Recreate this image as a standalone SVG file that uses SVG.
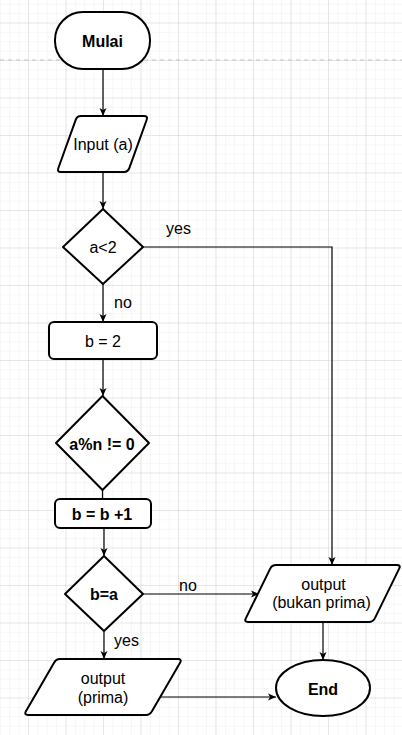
<svg xmlns="http://www.w3.org/2000/svg" width="402" height="735" viewBox="0 0 402 735">
  <defs>
    <pattern id="minor" patternUnits="userSpaceOnUse" x="28" y="22.5" width="9.375" height="9.375">
      <path d="M0,0 H9.375 M0,0 V9.375" fill="none" stroke="#efefef" stroke-width="1"/>
    </pattern>
    <pattern id="major" patternUnits="userSpaceOnUse" x="28" y="22.5" width="37.5" height="37.5">
      <path d="M0,0 H37.5 M0,0 V37.5" fill="none" stroke="#d6d6d6" stroke-width="1"/>
    </pattern>
    <marker id="arr" viewBox="0 0 8 8" refX="8" refY="4" markerWidth="8" markerHeight="8" markerUnits="userSpaceOnUse" orient="auto">
      <path d="M0,0.5 L8,4 L0,7.5 L2,4 Z" fill="#000"/>
    </marker>
  </defs>
  <style>
    .shape { fill: #fff; stroke: #000; stroke-width: 2; stroke-linejoin: round; }
    .edge { fill: none; stroke: #000; stroke-width: 1.2; }
    .t { font-family: "Liberation Sans", Arial, sans-serif; font-size: 16px; fill: #000; text-anchor: middle; }
    .b { font-weight: bold; }
    .lbl { font-family: "Liberation Sans", Arial, sans-serif; font-size: 16px; fill: #000; }
  </style>

  <!-- background grid -->
  <rect width="402" height="735" fill="#fff"/>
  <rect width="402" height="735" fill="url(#minor)"/>
  <rect width="402" height="735" fill="url(#major)"/>
  <line x1="0" y1="60" x2="402" y2="60" stroke="#c4c4c4" stroke-width="1" stroke-dasharray="4 4"/>

  <!-- connectors -->
  <g id="edges">
    <path class="edge" d="M103,69 V116" marker-end="url(#arr)"/>
    <path class="edge" d="M103,172 V209" marker-end="url(#arr)"/>
    <path class="edge" d="M143,247 H332 V565" marker-end="url(#arr)"/>
    <path class="edge" d="M103,284 V322" marker-end="url(#arr)"/>
    <path class="edge" d="M103,359 V396" marker-end="url(#arr)"/>
    <path class="edge" d="M102.5,490 V499"/>
    <path class="edge" d="M104,528 V556" marker-end="url(#arr)"/>
    <path class="edge" d="M143,594 H259" marker-end="url(#arr)"/>
    <path class="edge" d="M104,631 V659" marker-end="url(#arr)"/>
    <path class="edge" d="M161,697 H276" marker-end="url(#arr)" stroke="#333"/>
    <path class="edge" d="M323,622 V660" marker-end="url(#arr)"/>
    <text class="lbl" x="166" y="234">yes</text>
    <text class="lbl" x="114" y="308">no</text>
    <text class="lbl" x="179" y="591">no</text>
    <text class="lbl" x="114" y="646">yes</text>
  </g>

  <g id="start">
    <rect class="shape" x="55" y="12" width="95" height="57" rx="28" ry="28"/>
    <text class="t b" x="102.5" y="47">Mulai</text>
  </g>

  <g id="input">
    <path class="shape" d="M81,116 L144,116 Q148,116 146.7,119.8 L129.3,168.2 Q128,172 124,172 L61,172 Q57,172 58.3,168.2 L75.7,119.8 Q77,116 81,116 Z"/>
    <text class="t" x="103" y="150">Input (a)</text>
  </g>

  <g id="cond-a">
    <path class="shape" d="M103,209 L143,247 L103,284 L63,247 Z"/>
    <text class="t" x="103" y="253">a&lt;2</text>
  </g>

  <g id="init-b">
    <rect class="shape" x="49" y="322" width="108" height="37" rx="5" ry="5"/>
    <text class="t" x="103" y="347">b = 2</text>
  </g>

  <g id="cond-mod">
    <path class="shape" d="M102.5,396 L149,443 L102.5,490 L56,443 Z"/>
    <text class="t b" x="102" y="450">a%n != 0</text>
  </g>

  <g id="inc-b">
    <rect class="shape" x="55" y="499" width="96" height="29" rx="5" ry="5"/>
    <text class="t b" x="102" y="520">b = b +1</text>
  </g>

  <g id="cond-eq">
    <path class="shape" d="M104,556 L143,594 L104,631 L65,594 Z"/>
    <text class="t b" x="104" y="600">b=a</text>
  </g>

  <g id="out-not-prime">
    <path class="shape" d="M276,565 L397,565 Q401,565 399.2,568.6 L374.8,618.4 Q373,622 369,622 L248,622 Q244,622 245.8,618.4 L270.2,568.6 Q272,565 276,565 Z"/>
    <text class="t" x="323.5" y="590">output</text>
    <text class="t" x="321.5" y="608">(bukan prima)</text>
  </g>

  <g id="out-prime">
    <path class="shape" d="M60,659 L178,659 Q182,659 180.2,662.6 L151.8,711.4 Q150,715 146,715 L28,715 Q24,715 25.8,711.4 L54.2,662.6 Q56,659 60,659 Z"/>
    <text class="t" x="103" y="684">output</text>
    <text class="t" x="103" y="703">(prima)</text>
  </g>

  <g id="end">
    <ellipse class="shape" cx="323" cy="688" rx="47" ry="28"/>
    <text class="t b" x="323" y="695">End</text>
  </g>
</svg>
